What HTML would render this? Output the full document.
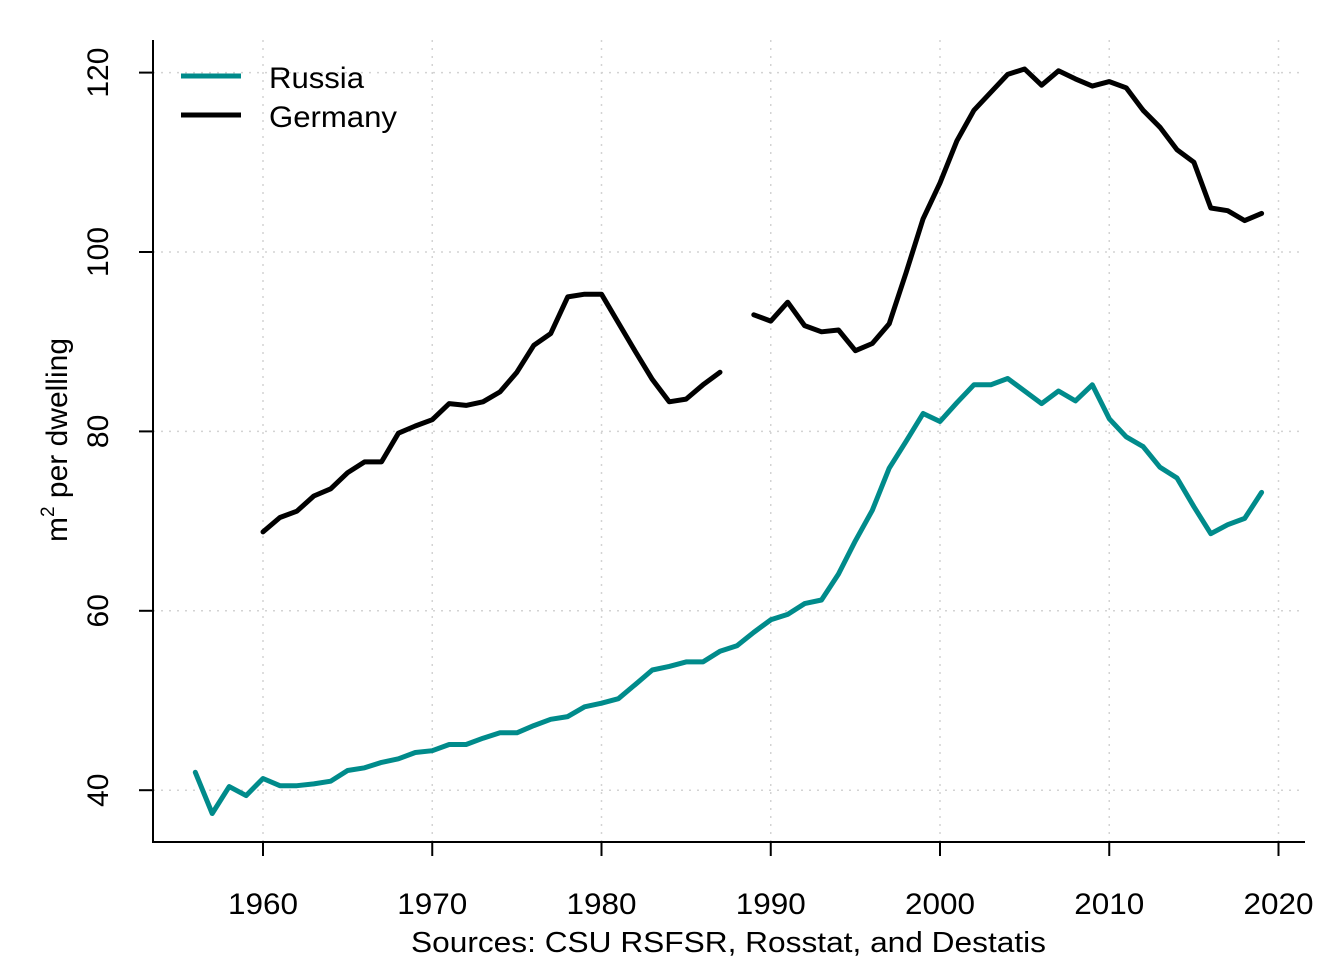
<!DOCTYPE html>
<html><head><meta charset="utf-8"><style>
html,body{margin:0;padding:0;background:#fff;}
svg{display:block;font-family:"Liberation Sans",Arial,sans-serif;}
</style></head><body>
<svg id="chart" width="1344" height="960" viewBox="0 0 1344 960" xmlns="http://www.w3.org/2000/svg">
<g id="grid"></g>
<g id="axes"></g>
<g id="series"></g>
<g id="legend">
  <line x1="181" y1="76" x2="241" y2="76" stroke="#008B8B" stroke-width="5"/>
  <text x="269" y="88" font-size="30" textLength="95" lengthAdjust="spacingAndGlyphs">Russia</text>
  <line x1="181" y1="115" x2="241" y2="115" stroke="#000" stroke-width="5"/>
  <text x="269" y="127" font-size="30" textLength="128" lengthAdjust="spacingAndGlyphs">Germany</text>
</g>
<text transform="translate(67,440) rotate(-90)" text-anchor="middle" font-size="30">m<tspan dy="-13" font-size="19">2</tspan><tspan dy="13"> per dwelling</tspan></text>
<text x="411" y="952" font-size="29" textLength="635" lengthAdjust="spacingAndGlyphs">Sources: CSU RSFSR, Rosstat, and Destatis</text>
</svg>
<script>
const russiaYears = [1956,1957,1958,1959,1960,1961,1962,1963,1964,1965,1966,1967,1968,1969,1970,1971,1972,1973,1974,1975,1976,1977,1978,1979,1980,1981,1982,1983,1984,1985,1986,1987,1988,1989,1990,1991,1992,1993,1994,1995,1996,1997,1998,1999,2000,2001,2002,2003,2004,2005,2006,2007,2008,2009,2010,2011,2012,2013,2014,2015,2016,2017,2018,2019];
const russiaValues = [42.0,37.4,40.4,39.4,41.3,40.5,40.5,40.7,41.0,42.2,42.5,43.1,43.5,44.2,44.4,45.1,45.1,45.8,46.4,46.4,47.2,47.9,48.2,49.3,49.7,50.2,51.8,53.4,53.8,54.3,54.3,55.5,56.1,57.6,59.0,59.6,60.8,61.2,64.1,67.8,71.2,75.9,78.9,82.0,81.1,83.2,85.2,85.2,85.9,84.5,83.1,84.5,83.4,85.2,81.4,79.4,78.3,76.0,74.8,71.6,68.6,69.6,70.3,73.2];
const germanyYears = [1960,1961,1962,1963,1964,1965,1966,1967,1968,1969,1970,1971,1972,1973,1974,1975,1976,1977,1978,1979,1980,1981,1982,1983,1984,1985,1986,1987,1988,1989,1990,1991,1992,1993,1994,1995,1996,1997,1998,1999,2000,2001,2002,2003,2004,2005,2006,2007,2008,2009,2010,2011,2012,2013,2014,2015,2016,2017,2018,2019];
const germanyValues = [68.8,70.4,71.1,72.8,73.6,75.4,76.6,76.6,79.8,80.6,81.3,83.1,82.9,83.3,84.4,86.6,89.6,90.9,95.0,95.3,95.3,92.1,88.9,85.8,83.3,83.6,85.2,86.6,null,93.0,92.3,94.4,91.8,91.1,91.3,89.0,89.8,92.0,97.7,103.7,107.7,112.4,115.8,117.8,119.8,120.4,118.6,120.2,119.3,118.5,119.0,118.3,115.8,113.9,111.4,110.0,104.9,104.6,103.5,104.3];
const xTicks = [1960,1970,1980,1990,2000,2010,2020];
const yTicks = [40,60,80,100,120];

const NS = "http://www.w3.org/2000/svg";
function X(yr){ return 263 + (yr-1960)*16.925; }
function Y(v){ return 252 + (100-v)*8.97; }
function mk(tag, attrs, parent){ const e=document.createElementNS(NS,tag); for(const k in attrs) e.setAttribute(k,attrs[k]); parent.appendChild(e); return e; }

const grid=document.getElementById('grid'), axes=document.getElementById('axes'), series=document.getElementById('series');
xTicks.forEach(t=>{
  const g=mk('line',{x1:X(t),x2:X(t),y1:40,y2:842,stroke:'#d3d3d3','stroke-width':1.5,'stroke-dasharray':'2,6'},grid);
  
  
  const tk=mk('line',{x1:X(t),x2:X(t),y1:842,y2:856,stroke:'#000','stroke-width':2},axes);
  
  
  const tx=mk('text',{x:X(t),y:914,'text-anchor':'middle','font-size':30,textLength:70,lengthAdjust:'spacingAndGlyphs'},axes);
  tx.textContent=t;
  
  
});
yTicks.forEach(t=>{
  const g=mk('line',{x1:153,x2:1305,y1:Y(t),y2:Y(t),stroke:'#d3d3d3','stroke-width':1.5,'stroke-dasharray':'2,6'},grid);
  
  
  const tk=mk('line',{x1:139,x2:153,y1:Y(t),y2:Y(t),stroke:'#000','stroke-width':2},axes);
  
  
  const tx=mk('text',{transform:`translate(108,${Y(t)}) rotate(-90)`,'text-anchor':'middle','font-size':30},axes);
  tx.textContent=t;
  
  
});
const ax=mk('path',{d:'M153,40 L153,842 L1305,842',fill:'none',stroke:'#000','stroke-width':2},axes);



function drawSeries(years, vals, color, name){
  let d='', pen=false;
  years.forEach((yr,i)=>{
    const v=vals[i];
    if(v===null||v===undefined){ pen=false; return; }
    d += (pen?'L':'M') + X(yr).toFixed(1) + ',' + Y(v).toFixed(1) + ' ';
    pen=true;
  });
  const p=mk('path',{d:d,fill:'none',stroke:color,'stroke-width':5,'stroke-linejoin':'round','stroke-linecap':'round'},series);
  
  
}
drawSeries(russiaYears, russiaValues, '#008B8B', 'russia-line');
drawSeries(germanyYears, germanyValues, '#000000', 'germany-line');
</script>
</body></html>
